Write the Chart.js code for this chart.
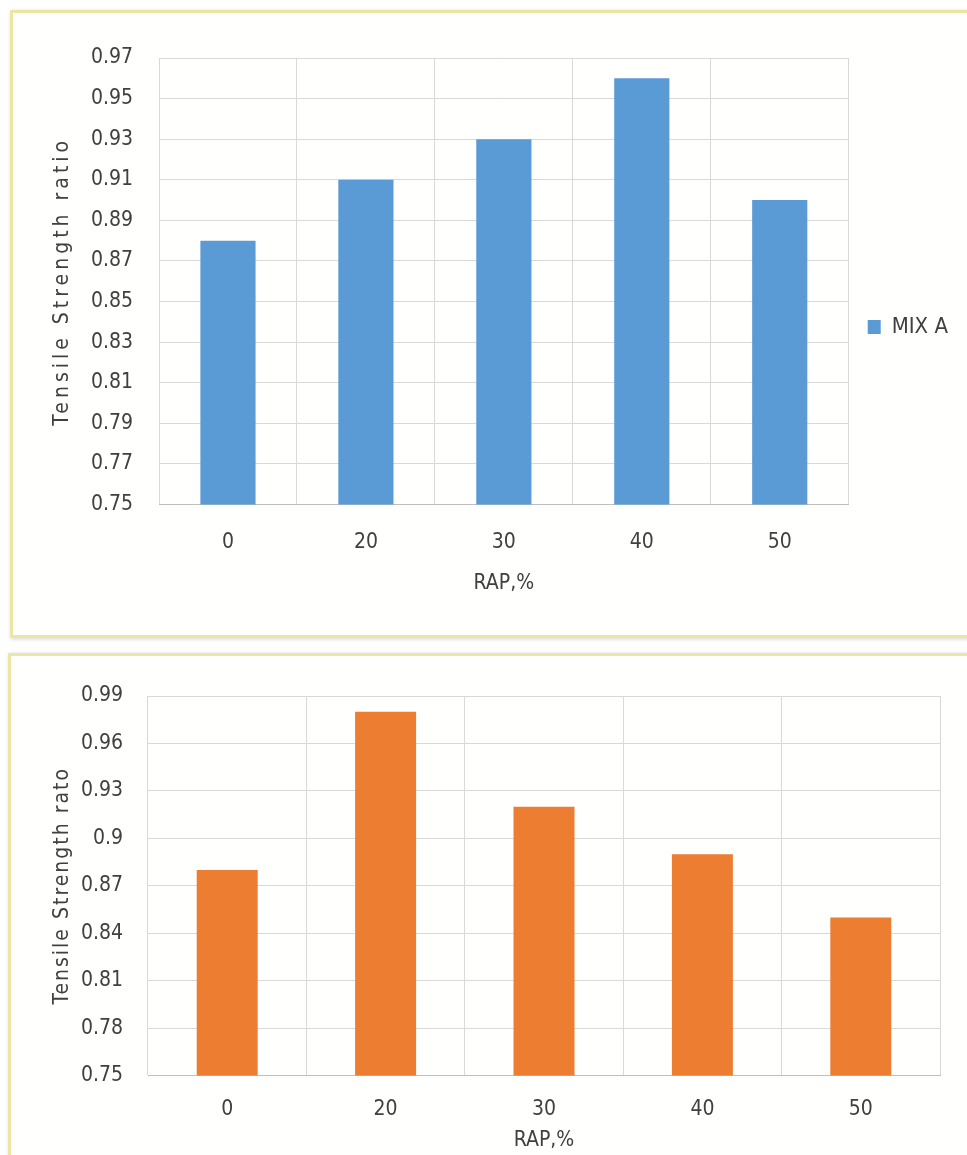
<!DOCTYPE html>
<html>
<head>
<meta charset="utf-8">
<script src="https://cdn.jsdelivr.net/npm/chart.js@4.4.1/dist/chart.umd.min.js"></script>
<style>
  body { margin: 0; background: #ffffff; overflow: hidden; }
  .panel {
    position: absolute;
    background: #fffffe;
    border: 3px solid #ece6a6;
    box-shadow: 1px 1px 4px rgba(0,0,0,0.18);
  }
  #p1 { left: 10px; top: 10px; width: 970px; height: 622px; }
  #p2 { left: 8px; top: 653px; width: 970px; height: 520px; }
  canvas { position: absolute; left: 0; top: 0; }
</style>
</head>
<body>
<div class="panel" id="p1"><canvas id="chartA" width="955" height="622"></canvas></div>
<div class="panel" id="p2"><canvas id="chartB" width="957" height="500"></canvas></div>
<script>
// dados
var rap = ['0', '20', '30', '40', '50'];
var mixA = [0.88, 0.91, 0.93, 0.96, 0.90];
var mixB = [0.88, 0.98, 0.92, 0.89, 0.85];
var ticksA = [0.75, 0.77, 0.79, 0.81, 0.83, 0.85, 0.87, 0.89, 0.91, 0.93, 0.95, 0.97];
var ticksB = [0.75, 0.78, 0.81, 0.84, 0.87, 0.9, 0.93, 0.96, 0.99];

var fonte = '"Liberation Sans Narrow", "DejaVu Sans Condensed", "Liberation Sans", sans-serif';
var grade = '#d9d9d9';
var texto = '#404040';

Chart.defaults.font.family = fonte;
Chart.defaults.font.size = 21;
Chart.defaults.color = texto;
Chart.defaults.animation = false;

// espaçamento entre letras no título do eixo y
var espacoTitulo = {
    id: 'espacoTitulo',
    beforeDraw: function (chart, args, opts) {
        var s = chart.scales.y;
        if (s._espacado) return;
        var orig = s.drawTitle;
        s.drawTitle = function () {
            var ctx = this.ctx;
            ctx.save();
            ctx.letterSpacing = opts.espaco + 'px';
            orig.apply(this, arguments);
            ctx.restore();
        };
        s._espacado = true;
    }
};

function eixos(ticks, yTitulo, yLargura, yTitPad, yTickPad, xPad, xTitPad) {
    return {
        x: {
            grid: { color: grade, offset: true, drawTicks: false },
            border: { color: '#bfbfbf' },
            ticks: { padding: xPad },
            title: { display: true, text: 'RAP,%', padding: { top: xTitPad, bottom: 0 } }
        },
        y: {
            min: ticks[0],
            max: ticks[ticks.length - 1],
            afterBuildTicks: function (s) { s.ticks = ticks.map(function (v) { return { value: v }; }); },
            grid: { color: grade, drawTicks: false },
            border: { display: false },
            ticks: { padding: yTickPad, callback: function (v) { return String(v); } },
            title: { display: true, text: yTitulo, padding: { top: yTitPad, bottom: 0 } },
            afterFit: function (s) { s.width = yLargura; }
        }
    };
}

new Chart(document.getElementById('chartA'), {
    type: 'bar',
    data: {
        labels: rap,
        datasets: [{ label: 'MIX A', data: mixA, backgroundColor: '#5b9bd5', categoryPercentage: 1, barPercentage: 0.4 }]
    },
    options: {
        responsive: false,
        layout: { padding: { left: 20, top: 45, right: 10, bottom: 39 } },
        plugins: {
            legend: {
                position: 'right',
                labels: { boxWidth: 13, boxHeight: 14, padding: 19, font: { size: 22 } }
            },
            tooltip: { enabled: false },
            espacoTitulo: { espaco: 4 }
        },
        scales: eixos(ticksA, 'Tensile Strength ratio', 126, 17, 26, 25, -9)
    },
    plugins: [espacoTitulo]
});

new Chart(document.getElementById('chartB'), {
    type: 'bar',
    data: {
        labels: rap,
        datasets: [{ label: 'MIX B', data: mixB, backgroundColor: '#ed7d31', categoryPercentage: 1, barPercentage: 0.385 }]
    },
    options: {
        responsive: false,
        layout: { padding: { left: 20, top: 40, right: 28, bottom: 3 } },
        plugins: {
            legend: { display: false },
            tooltip: { enabled: false },
            espacoTitulo: { espaco: 2 }
        },
        scales: eixos(ticksB, 'Tensile Strength rato', 117, 19, 25, 21, -15)
    },
    plugins: [espacoTitulo]
});
</script>
</body>
</html>
